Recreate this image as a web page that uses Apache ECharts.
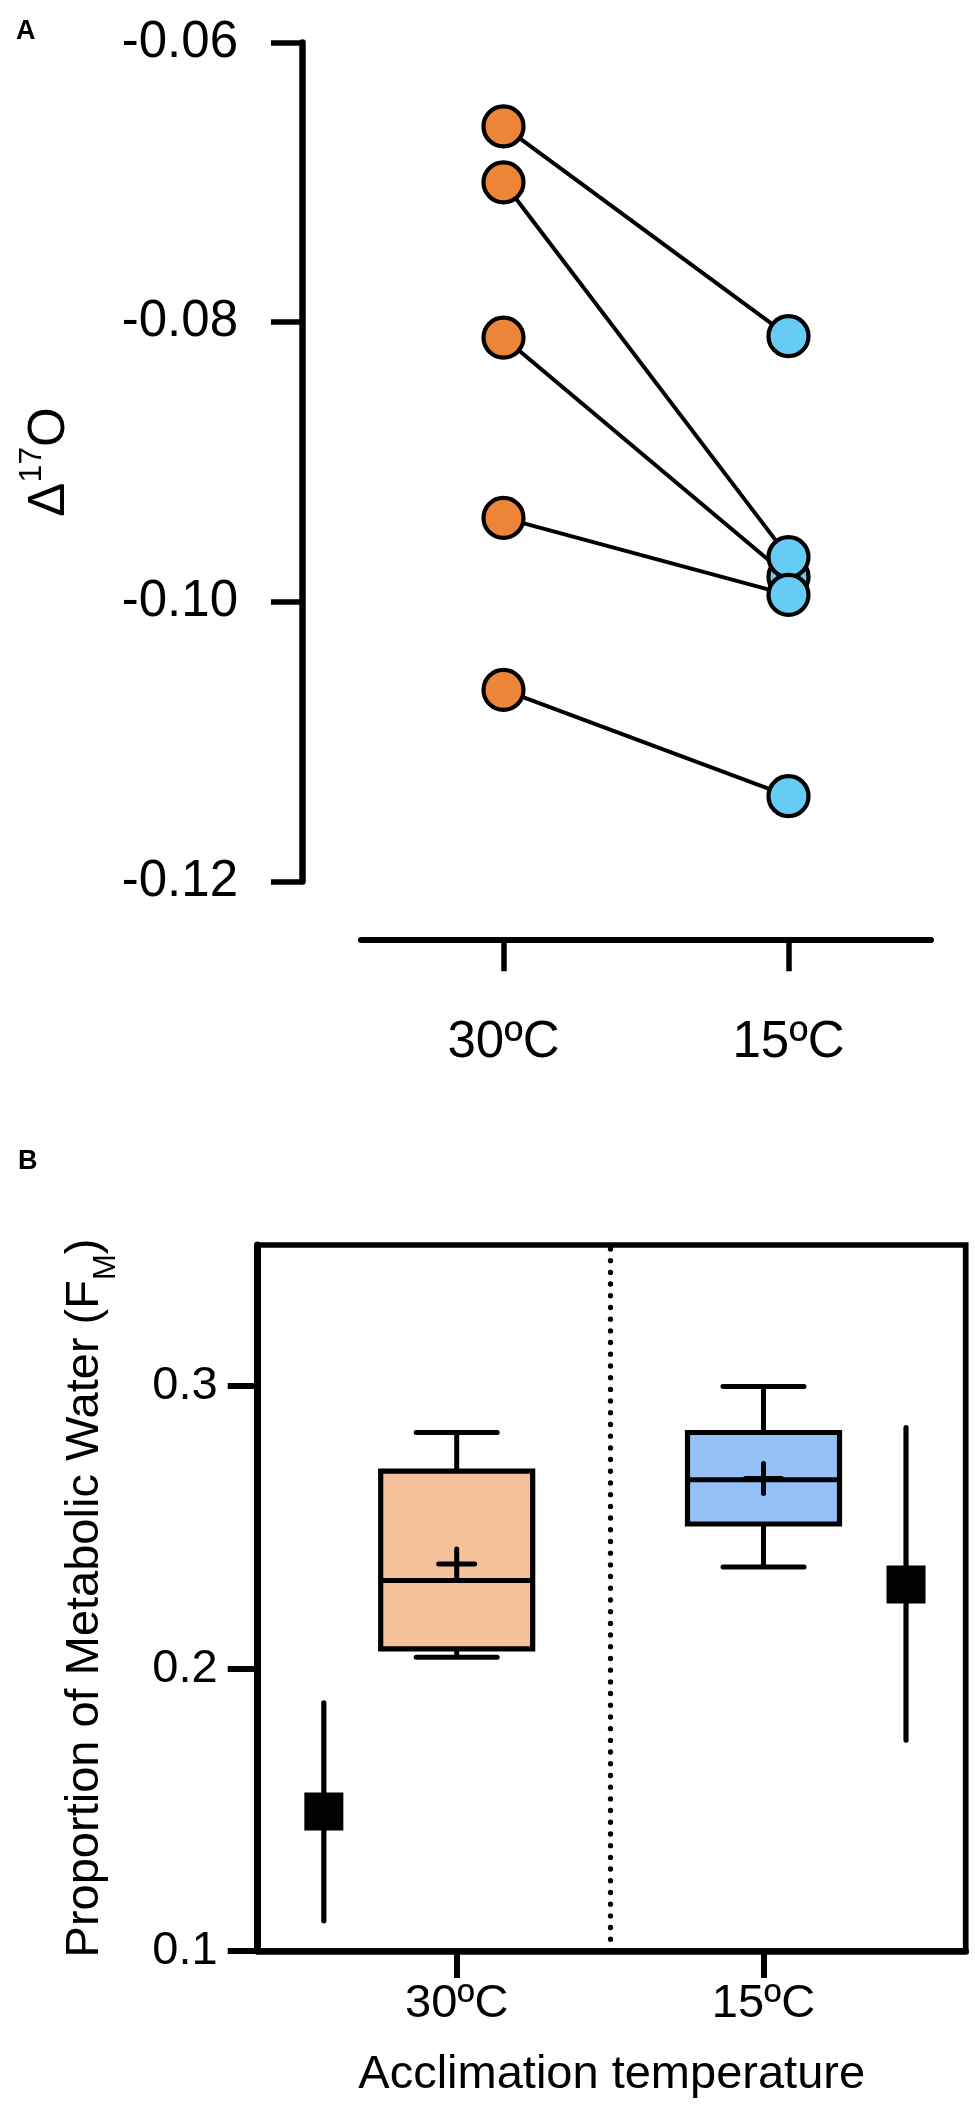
<!DOCTYPE html>
<html>
<head>
<meta charset="utf-8">
<script src="https://cdn.jsdelivr.net/npm/echarts@6/dist/echarts.min.js"></script>
<style>
html,body{margin:0;padding:0;background:#fff;}
#chart{width:975px;height:2108px;}
</style>
</head>
<body>
<div id="chart"></div>
<script>
// ---------- Panel A data ----------
const groupsA = ['30ºC', '15ºC'];
const delta30 = [-0.0660, -0.0700, -0.0811, -0.0940, -0.1063];
const delta15 = [-0.0810, -0.0968, -0.0982, -0.0995, -0.1139];
const yTicksA = [-0.12, -0.10, -0.08, -0.06];

// ---------- Panel B data ----------
const groupsB = ['30ºC', '15ºC'];
// [min, Q1, median, Q3, max]
const box30 = [0.2040, 0.2070, 0.2312, 0.2699, 0.2836];
const box15 = [0.2360, 0.2512, 0.2669, 0.2836, 0.2999];
const boxMeans = [0.2370, 0.2673];
const predMean = [0.1494, 0.2298];
const predLow = [0.1107, 0.1747];
const predHigh = [0.1879, 0.2853];
const yTicksB = [0.1, 0.2, 0.3];

// ---------- layout / style constants ----------
const FONT = '"Liberation Sans", Arial, Helvetica, sans-serif';
const ORANGE = '#EC8537', BLUE = '#66CCF5';
const BOX_FILL = ['#F5C09A', '#94C2F8'];
const PRED_OFFSET = [-0.433, 0.4645];   // horizontal offset of predicted marker from its group
const BLUE_DRAW_ORDER = [0, 2, 1, 3, 4];

const chart = echarts.init(document.getElementById('chart'), null, {renderer: 'canvas'});

const seriesA = [];
for (let i = 0; i < delta30.length; i++) {
  seriesA.push({
    type: 'line', xAxisIndex: 0, yAxisIndex: 0,
    data: [delta30[i], delta15[i]],
    showSymbol: false, silent: true, z: 2,
    lineStyle: {color: '#000', width: 4}
  });
}
seriesA.push({
  type: 'scatter', xAxisIndex: 0, yAxisIndex: 0, z: 3,
  data: delta30.map(v => [0, v]),
  symbol: 'circle', symbolSize: 40,
  itemStyle: {color: ORANGE, borderColor: '#000', borderWidth: 4.2, opacity: 1}
});
seriesA.push({
  type: 'scatter', xAxisIndex: 0, yAxisIndex: 0, z: 3,
  data: BLUE_DRAW_ORDER.map(i => [1, delta15[i]]),
  symbol: 'circle', symbolSize: 40,
  itemStyle: {color: BLUE, borderColor: '#000', borderWidth: 4.2, opacity: 1}
});

const boxData = [
  [1].concat(box30, [boxMeans[0]]),
  [2].concat(box15, [boxMeans[1]])
];

const seriesB = [
  {
    type: 'custom', xAxisIndex: 1, yAxisIndex: 1, z: 3,
    data: boxData,
    renderItem: function (params, api) {
      const x = api.value(0);
      const pMin = api.coord([x, api.value(1)]);
      const pQ1 = api.coord([x, api.value(2)]);
      const pMed = api.coord([x, api.value(3)]);
      const pQ3 = api.coord([x, api.value(4)]);
      const pMax = api.coord([x, api.value(5)]);
      const pMean = api.coord([x, api.value(6)]);
      const cx = pMin[0];
      const hb = 76, hc = 40.5;
      const ls = {stroke: '#000', lineWidth: 5, lineCap: 'round'};
      const lsb = {stroke: '#000', lineWidth: 5, lineCap: 'butt'};
      return {
        type: 'group',
        children: [
          {type: 'line', shape: {x1: cx, y1: pMax[1], x2: cx, y2: pQ3[1]}, style: lsb},
          {type: 'line', shape: {x1: cx, y1: pQ1[1], x2: cx, y2: pMin[1]}, style: lsb},
          {type: 'line', shape: {x1: cx - hc, y1: pMax[1], x2: cx + hc, y2: pMax[1]}, style: ls},
          {type: 'line', shape: {x1: cx - hc, y1: pMin[1], x2: cx + hc, y2: pMin[1]}, style: ls},
          {type: 'rect', shape: {x: cx - hb, y: pQ3[1], width: 2 * hb, height: pQ1[1] - pQ3[1]},
            style: {fill: BOX_FILL[params.dataIndex], stroke: '#000', lineWidth: 5.2}},
          {type: 'line', shape: {x1: cx - hb, y1: pMed[1], x2: cx + hb, y2: pMed[1]}, style: lsb},
          {type: 'line', shape: {x1: cx - 18, y1: pMean[1], x2: cx + 18, y2: pMean[1]}, style: ls},
          {type: 'line', shape: {x1: cx, y1: pMean[1] - 15, x2: cx, y2: pMean[1] + 15}, style: ls}
        ]
      };
    }
  },
  {
    type: 'custom', xAxisIndex: 1, yAxisIndex: 1, z: 3,
    data: predMean.map((m, i) => [i + 1 + PRED_OFFSET[i], predLow[i], predHigh[i]]),
    renderItem: function (params, api) {
      const lo = api.coord([api.value(0), api.value(1)]);
      const hi = api.coord([api.value(0), api.value(2)]);
      return {type: 'line', shape: {x1: lo[0], y1: lo[1], x2: hi[0], y2: hi[1]},
        style: {stroke: '#000', lineWidth: 5.2, lineCap: 'round'}};
    }
  },
  {
    type: 'scatter', xAxisIndex: 1, yAxisIndex: 1, z: 4,
    data: predMean.map((m, i) => [i + 1 + PRED_OFFSET[i], m]),
    symbol: 'rect', symbolSize: [39, 38],
    itemStyle: {color: '#000', opacity: 1},
    markLine: {
      silent: true, symbol: 'none', label: {show: false},
      lineStyle: {color: '#000', width: 5.3, type: [0.1, 11.6], cap: 'round'},
      data: [{xAxis: 1.5}]
    }
  }
];

const option = {
  backgroundColor: '#fff',
  animation: false,
  textStyle: {fontFamily: FONT, color: '#000'},
  grid: [
    {left: 361, right: 44, top: 42.5, height: 839},
    {left: 257.7, right: 9.3, top: 1245, height: 706, show: true, borderColor: '#000', borderWidth: 5.7, backgroundColor: 'transparent'}
  ],
  xAxis: [
    {
      gridIndex: 0, type: 'category', data: groupsA, boundaryGap: true, offset: 57.8,
      axisLine: {show: true, lineStyle: {color: '#000', width: 6}},
      axisTick: {show: true, alignWithLabel: true, length: 32, lineStyle: {color: '#000', width: 5.5}},
      axisLabel: {color: '#000', fontSize: 51, fontFamily: FONT, margin: 78},
      splitLine: {show: false}
    },
    {
      gridIndex: 1, type: 'value', min: 0.3514, max: 2.659,
      axisLine: {show: true, onZero: false, lineStyle: {color: '#000', width: 6.5}},
      axisTick: {show: true, length: 27, customValues: [1, 2], lineStyle: {color: '#000', width: 6}},
      axisLabel: {color: '#000', fontSize: 47, fontFamily: FONT, margin: 30, customValues: [1, 2],
        formatter: v => groupsB[Math.round(v) - 1]},
      splitLine: {show: false},
      name: 'Acclimation temperature', nameLocation: 'middle', nameGap: 101,
      nameTextStyle: {color: '#000', fontSize: 47, fontFamily: FONT}
    }
  ],
  yAxis: [
    {
      gridIndex: 0, type: 'value', min: -0.12, max: -0.06, interval: 0.02, offset: 59,
      axisLine: {show: true, onZero: false, lineStyle: {color: '#000', width: 6.5}},
      axisTick: {show: true, length: 31, customValues: yTicksA, lineStyle: {color: '#000', width: 5.5}},
      axisLabel: {color: '#000', fontSize: 51, fontFamily: FONT, margin: 64, customValues: yTicksA,
        formatter: v => v.toFixed(2)},
      splitLine: {show: false},
      name: '{m|Δ}{s|17}{m|O}', nameLocation: 'middle', nameRotate: 90, nameGap: 218,
      nameTextStyle: {
        color: '#000', fontSize: 51, fontFamily: FONT,
        rich: {
          m: {fontSize: 51, lineHeight: 68, fontFamily: FONT, color: '#000'},
          s: {fontSize: 32, lineHeight: 32, verticalAlign: 'top', fontFamily: FONT, color: '#000'}
        }
      }
    },
    {
      gridIndex: 1, type: 'value', min: 0.1, max: 0.35,
      axisLine: {show: true, onZero: false, lineStyle: {color: '#000', width: 7}},
      axisTick: {show: true, length: 30, customValues: yTicksB, lineStyle: {color: '#000', width: 6}},
      axisLabel: {color: '#000', fontSize: 47, fontFamily: FONT, margin: 40, customValues: yTicksB,
        formatter: v => v.toFixed(1)},
      splitLine: {show: false},
      name: '{n|Proportion of Metabolic Water (F}{s|M}{n|)}', nameLocation: 'middle', nameRotate: 90, nameGap: 136,
      nameTextStyle: {
        color: '#000', fontSize: 47, fontFamily: FONT,
        rich: {
          n: {fontSize: 47, lineHeight: 73, fontFamily: FONT, color: '#000'},
          s: {fontSize: 31, lineHeight: 31, verticalAlign: 'bottom', fontFamily: FONT, color: '#000'}
        }
      }
    }
  ],
  graphic: [
    {type: 'text', left: 16, top: 18, style: {text: 'A', font: 'bold 27px ' + FONT, fill: '#000'}},
    {type: 'text', left: 18, top: 1148, style: {text: 'B', font: 'bold 27px ' + FONT, fill: '#000'}}
  ],
  series: seriesA.concat(seriesB)
};

chart.setOption(option);
</script>
</body>
</html>
